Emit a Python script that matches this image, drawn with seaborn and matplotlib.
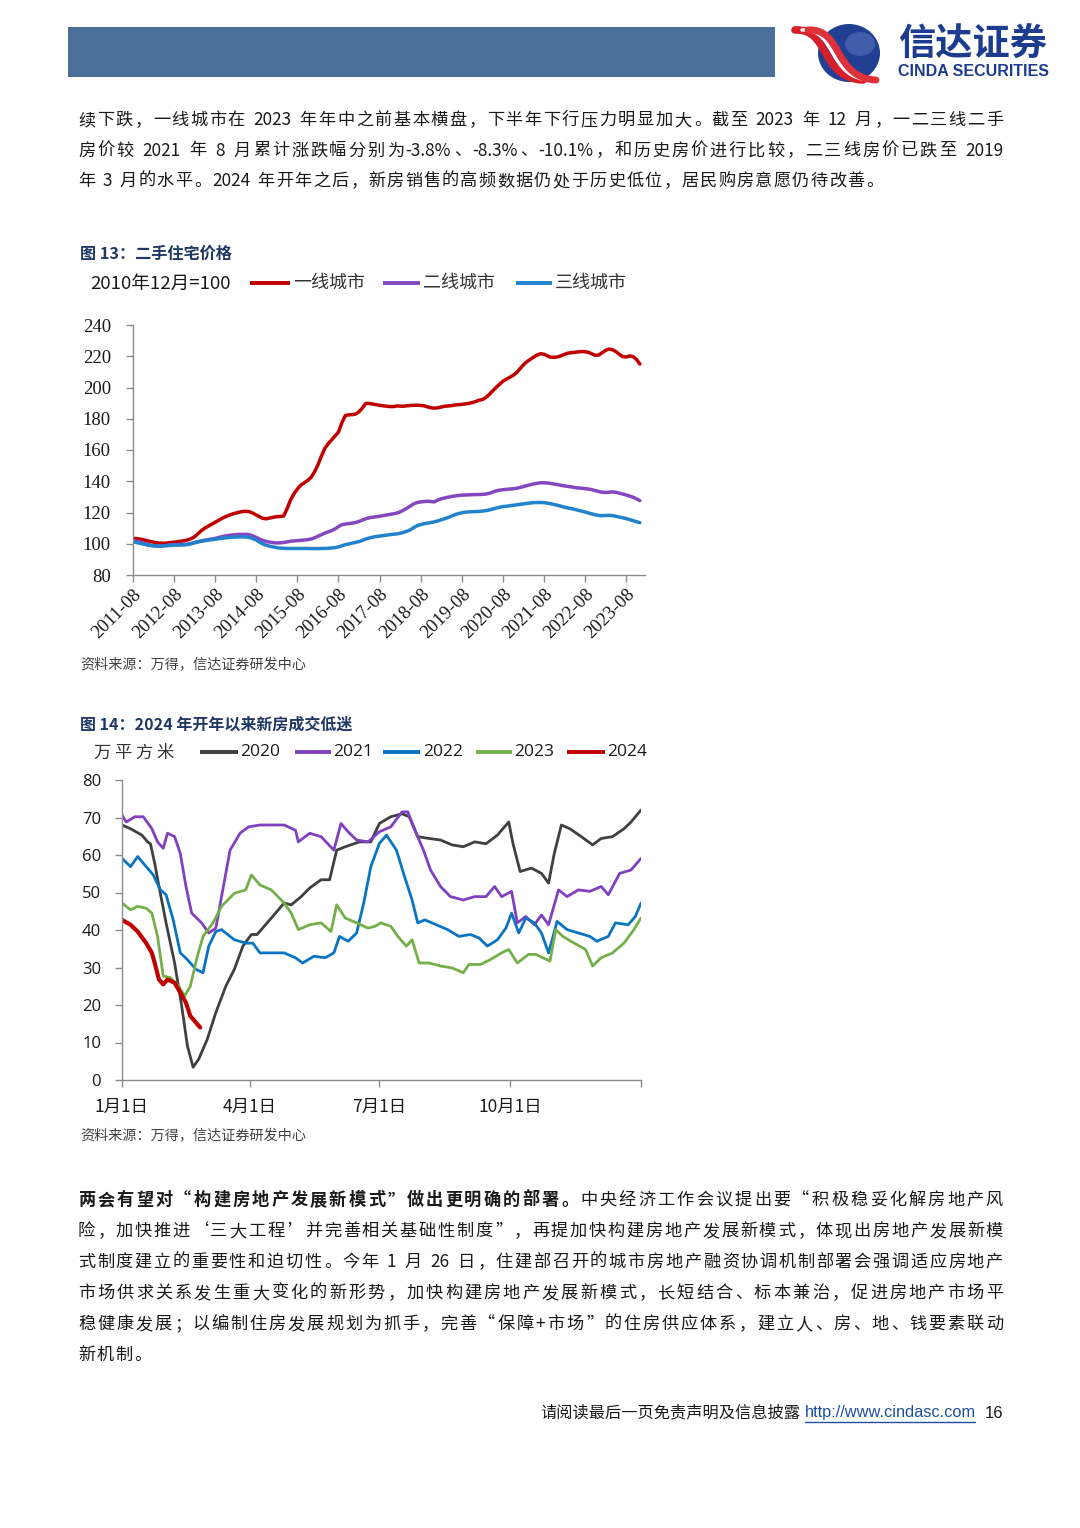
import re
import numpy as np
import pandas as pd
import matplotlib
matplotlib.use("Agg")
import matplotlib.pyplot as plt
import seaborn as sns
from matplotlib.patches import Rectangle, Ellipse, PathPatch
from matplotlib.path import Path

# ---------------- data: chart 13 (monthly, 2011-08 .. 2023-12) ----------------
tier1 = [103.5, 103.3, 103.0, 102.6, 102.0, 101.5, 101.0, 100.6, 100.4, 100.3,
         100.5, 100.8, 101.0, 101.3, 101.6, 102.0, 102.5, 103.3, 104.5, 106.5,
         108.5, 110.0, 111.3, 112.5, 113.8, 115.0, 116.3, 117.3, 118.2, 119.0,
         119.6, 120.2, 120.6, 120.8, 120.5, 119.6, 118.4, 117.2, 116.2, 116.0,
         116.5, 117.0, 117.3, 117.5, 117.8, 122.5, 128.0, 132.0, 135.0, 137.5,
         139.0, 140.5, 142.5, 146.0, 150.5, 156.0, 161.0, 164.0, 166.5, 169.0,
         171.5, 177.5, 182.0, 182.5, 182.6, 183.0, 184.5, 187.0, 189.8, 189.8,
         189.4, 189.0, 188.6, 188.3, 188.0, 187.8, 187.8, 188.2, 188.1, 188.0,
         188.3, 188.5, 188.6, 188.7, 188.5, 188.3, 187.6, 187.0, 186.8, 187.0,
         187.5, 188.0, 188.2, 188.4, 188.8, 189.0, 189.2, 189.5, 189.8, 190.3,
         191.0, 191.8, 192.3, 193.5, 195.5, 197.8, 200.0, 202.0, 204.0, 205.3,
         206.5, 207.8, 209.5, 212.0, 214.5, 216.5, 218.0, 219.5, 220.8, 221.6,
         221.3, 220.2, 219.4, 219.3, 219.6, 220.3, 221.2, 222.0, 222.3, 222.5,
         222.8, 223.0, 222.9, 222.5, 221.5, 220.6, 220.8, 222.3, 223.8, 224.6,
         224.2, 223.0, 221.2, 219.8, 219.5, 220.2, 219.8, 218.0, 215.0]
tier2 = [102.0, 101.6, 101.0, 100.4, 99.8, 99.2, 98.8, 98.6, 98.6, 98.8,
         99.0, 99.3, 99.5, 99.5, 99.5, 99.6, 99.8, 100.2, 100.8, 101.4,
         101.8, 102.3, 102.7, 103.0, 103.4, 104.0, 104.6, 105.0, 105.3, 105.6,
         105.8, 106.0, 106.0, 106.0, 105.8, 105.0, 104.0, 103.0, 102.0, 101.5,
         101.0, 100.7, 100.5, 100.6, 100.8, 101.2, 101.6, 101.8, 102.0, 102.2,
         102.4, 102.6, 103.0, 103.8, 104.8, 105.8, 106.8, 107.6, 108.4, 109.5,
         111.0, 112.2, 112.6, 112.9, 113.2, 113.6, 114.3, 115.2, 116.0, 116.6,
         117.0, 117.3, 117.6, 118.0, 118.4, 118.8, 119.1, 119.6, 120.4, 121.5,
         122.8, 124.2, 125.6, 126.4, 126.8, 127.0, 127.2, 127.0, 126.8, 128.0,
         128.8, 129.3, 129.8, 130.2, 130.6, 130.9, 131.1, 131.2, 131.3, 131.4,
         131.5, 131.5, 131.6, 131.8, 132.3, 133.0, 133.8, 134.3, 134.6, 134.8,
         135.0, 135.2, 135.5, 136.0, 136.6, 137.2, 137.8, 138.3, 138.7, 139.0,
         139.0, 138.9, 138.6, 138.2, 137.8, 137.4, 137.0, 136.7, 136.4, 136.0,
         135.7, 135.5, 135.3, 135.0, 134.6, 134.0, 133.4, 133.0, 132.8, 133.0,
         133.2, 132.9, 132.4, 131.8, 131.2, 130.5, 129.8, 128.8, 127.6]
tier3 = [101.2, 100.8, 100.3, 99.8, 99.3, 98.9, 98.6, 98.5, 98.5, 98.6,
         98.8, 99.0, 99.1, 99.1, 99.2, 99.3, 99.5, 100.0, 100.6, 101.2,
         101.6, 102.0, 102.3, 102.6, 102.9, 103.2, 103.5, 103.8, 104.0, 104.2,
         104.3, 104.4, 104.4, 104.3, 104.0, 103.3, 102.3, 101.0, 99.8, 99.0,
         98.4, 97.9, 97.5, 97.2, 97.1, 97.0, 97.0, 97.0, 97.0, 97.0,
         97.0, 97.0, 96.9, 96.9, 96.9, 97.0, 97.0, 97.1, 97.3, 97.5,
         98.0, 98.7, 99.4, 99.9, 100.4, 100.9, 101.4, 102.2, 103.0, 103.7,
         104.2, 104.6, 104.9, 105.2, 105.5, 105.8, 106.1, 106.3, 106.7, 107.3,
         108.0, 109.0, 110.4, 111.6, 112.3, 112.8, 113.2, 113.6, 114.0, 114.6,
         115.3, 116.0, 116.8, 117.7, 118.6, 119.3, 119.8, 120.2, 120.4, 120.5,
         120.6, 120.7, 120.9, 121.2, 121.6, 122.2, 122.8, 123.3, 123.8, 124.0,
         124.3, 124.6, 124.9, 125.2, 125.5, 125.8, 126.1, 126.3, 126.4, 126.4,
         126.3, 126.0, 125.6, 125.1, 124.6, 124.0, 123.4, 122.9, 122.5, 122.0,
         121.4, 120.9, 120.3, 119.7, 119.1, 118.5, 118.1, 118.0, 118.1, 118.2,
         118.0, 117.6, 117.1, 116.6, 116.1, 115.5, 114.8, 114.1, 113.5]
c1_series = ["一线城市", "二线城市", "三线城市"]
c1_colors = ["#C00000", "#8547C0", "#2283CC"]
c1_xticks = ["2011-08", "2012-08", "2013-08", "2014-08", "2015-08", "2016-08", "2017-08",
             "2018-08", "2019-08", "2020-08", "2021-08", "2022-08", "2023-08"]
c1_yticks = [80, 100, 120, 140, 160, 180, 200, 220, 240]

# ---------------- data: chart 14 (day of year) ----------------
d2020_x = [0, 6, 14, 18, 20, 23, 26, 31, 37, 42, 46, 50, 54, 60, 66, 73, 79, 85, 91, 95,
           100, 108, 114, 119, 126, 132, 140, 146, 151, 157, 167, 175, 181, 189, 197, 202, 208, 216, 224, 232,
           240, 248, 256, 264, 272, 275, 280, 288, 295, 300, 304, 309, 315, 323, 331, 337, 345, 353, 358, 365]
d2020_y = [68.0, 67.0, 65.3, 63.5, 63.0, 57.8, 51.6, 41.9, 31.2, 19.7, 9.1, 3.4, 5.6, 10.9, 18.0, 25.0, 29.5, 35.7, 38.8, 38.8,
           41.0, 44.5, 47.2, 46.7, 48.9, 51.2, 53.4, 53.4, 61.3, 62.2, 63.5, 63.5, 68.4, 70.2, 71.0, 70.2, 64.9, 64.4, 64.0, 62.7,
           62.2, 63.5, 63.0, 65.3, 68.8, 63.0, 55.6, 56.5, 55.1, 52.5, 60.4, 68.0, 67.0, 64.9, 62.7, 64.4, 64.9, 67.0, 68.8, 72.0]
d2021_x = [0, 3, 9, 15, 21, 25, 29, 32, 37, 41, 45, 49, 56, 61, 66, 70, 76, 83, 89, 97,
           105, 114, 122, 124, 132, 140, 149, 154, 159, 165, 173, 181, 189, 197, 201, 206, 212, 217, 224, 231,
           240, 248, 256, 262, 267, 274, 278, 284, 290, 295, 300, 307, 313, 321, 329, 337, 342, 350, 358, 365]
d2021_y = [70.6, 68.8, 70.2, 70.2, 67.0, 63.5, 61.8, 65.8, 64.9, 60.4, 51.6, 44.5, 41.9, 39.2, 40.5, 48.9, 61.3, 65.8, 67.5, 68.0,
           68.0, 68.0, 66.6, 63.5, 65.8, 64.9, 61.3, 68.4, 66.2, 64.0, 63.5, 66.2, 67.5, 71.5, 71.5, 66.6, 61.3, 56.0, 51.6, 48.9,
           48.0, 48.9, 48.9, 51.6, 48.9, 50.3, 41.9, 43.6, 41.4, 44.0, 41.4, 50.7, 48.9, 50.7, 50.3, 51.6, 49.4, 55.1, 56.0, 59.1]
d2022_x = [0, 6, 11, 17, 22, 27, 31, 36, 41, 46, 52, 57, 61, 66, 70, 79, 87, 92, 97, 105,
           114, 122, 127, 135, 143, 149, 153, 159, 165, 170, 175, 181, 186, 193, 198, 204, 208, 213, 221, 229,
           237, 245, 251, 257, 264, 270, 274, 279, 284, 290, 295, 300, 306, 313, 321, 329, 334, 342, 347, 356, 361, 365]
d2022_y = [59.1, 56.9, 59.6, 56.9, 54.7, 50.7, 49.4, 42.7, 33.9, 32.1, 29.5, 28.6, 35.7, 39.6, 40.1, 37.4, 36.5, 36.5, 33.9, 33.9,
           33.9, 32.6, 31.2, 33.0, 32.6, 33.9, 38.3, 37.0, 39.2, 47.2, 56.9, 63.1, 65.3, 61.3, 55.1, 48.0, 41.9, 42.7, 41.4, 40.1,
           38.3, 38.8, 37.9, 35.7, 37.4, 40.5, 44.5, 39.2, 43.2, 41.9, 39.2, 33.9, 42.3, 40.1, 39.2, 38.3, 37.0, 38.3, 41.9, 41.4, 43.6, 47.2]
d2023_x = [0, 6, 11, 17, 21, 25, 29, 34, 40, 44, 48, 53, 57, 64, 70, 79, 87, 91, 97, 105,
           114, 119, 124, 132, 140, 147, 151, 157, 165, 173, 178, 182, 189, 194, 200, 204, 209, 216, 224, 232,
           240, 244, 252, 259, 267, 272, 278, 286, 291, 301, 305, 310, 318, 326, 331, 337, 345, 353, 360, 365]
d2023_y = [47.2, 45.4, 46.3, 45.8, 44.5, 38.3, 27.7, 27.3, 25.0, 22.4, 25.0, 33.0, 38.3, 41.9, 46.3, 49.8, 50.7, 54.7, 52.0, 50.7,
           47.2, 44.5, 40.1, 41.4, 41.9, 39.6, 46.7, 43.2, 41.9, 40.5, 41.0, 41.9, 41.0, 38.3, 35.7, 37.4, 31.2, 31.2, 30.4, 29.9,
           28.6, 30.8, 30.8, 32.1, 33.9, 34.8, 31.2, 33.5, 33.5, 31.7, 40.1, 38.3, 36.5, 34.8, 30.4, 32.6, 33.9, 36.5, 40.1, 43.2]
d2024_x = [0, 6, 11, 17, 21, 23, 26, 29, 32, 37, 41, 45, 48, 52, 55]
d2024_y = [42.7, 41.4, 39.6, 36.5, 33.9, 31.2, 26.8, 25.5, 26.8, 25.9, 23.3, 20.6, 17.1, 15.3, 14.0]
c2_years = ["2020", "2021", "2022", "2023", "2024"]
c2_colors = ["#404040", "#8040C0", "#0A74C4", "#74B04A", "#C00000"]
c2_xtick_pos = [0, 90, 181, 273, 365]
c2_xtick_lab = ["1月1日", "4月1日", "7月1日", "10月1日", ""]
c2_yticks = [0, 10, 20, 30, 40, 50, 60, 70, 80]

# ---------------- text ----------------
para1 = [
    "续下跌，一线城市在 2023 年年中之前基本横盘，下半年下行压力明显加大。截至 2023 年 12 月，一二三线二手",
    "房价较 2021 年 8 月累计涨跌幅分别为-3.8%、-8.3%、-10.1%，和历史房价进行比较，二三线房价已跌至 2019",
    "年 3 月的水平。2024 年开年之后，新房销售的高频数据仍处于历史低位，居民购房意愿仍待改善。",
]
para2_bold = "两会有望对“构建房地产发展新模式”做出更明确的部署。"
para2 = [
    "中央经济工作会议提出要“积极稳妥化解房地产风",
    "险，加快推进‘三大工程’并完善相关基础性制度”，再提加快构建房地产发展新模式，体现出房地产发展新模",
    "式制度建立的重要性和迫切性。今年 1 月 26 日，住建部召开的城市房地产融资协调机制部署会强调适应房地产",
    "市场供求关系发生重大变化的新形势，加快构建房地产发展新模式，长短结合、标本兼治，促进房地产市场平",
    "稳健康发展；以编制住房发展规划为抓手，完善“保障+市场”的住房供应体系，建立人、房、地、钱要素联动",
    "新机制。",
]

# ---------------- figure ----------------
sns.set_theme(style="white")
plt.rcParams["font.family"] = ["Noto Sans CJK SC", "DejaVu Sans"]
CJK = ["Noto Sans CJK SC", "DejaVu Sans"]

W, H = 1080, 1528
fig = plt.figure(figsize=(10.8, 15.28), dpi=100)
fig.patch.set_facecolor("white")
bg = fig.add_axes([0, 0, 1, 1])
bg.set_xlim(0, W)
bg.set_ylim(H, 0)
bg.axis("off")
bg.set_zorder(0)
renderer = fig.canvas.get_renderer()


def ax_rect(l, t, r, b):
    return [l / W, 1 - b / H, (r - l) / W, (b - t) / H]


FULL_PUNCT_LEFT = set("，。、；：”’）")
FULL_PUNCT_RIGHT = set("“‘（")


def is_cjk(ch):
    return ord(ch) >= 0x2E80 or ch in "“”‘’"


def measure(t, size, weight="normal", family=None):
    tt = bg.text(0, 0, t, fontsize=size, fontweight=weight, family=family or CJK)
    w = tt.get_window_extent(renderer).width
    tt.remove()
    return w


def fit_text(x0, x1, y, t, size, **kw):
    w = measure(t, size, kw.get("fontweight", "normal"), kw.get("family"))
    s = size * (x1 - x0) / w
    bg.text(x0, y, t, fontsize=s, ha="left", va="center", **kw)


def draw_line(segs, x0, x1, y, size, justify=True, color="#1a1a1a"):
    toks = []
    for text, w in segs:
        for t in re.findall(r"[A-Za-z0-9.%+\-]+|\s+|.", text):
            toks.append((t, w))
    em = size * 100 / 72
    widths = []
    for t, w in toks:
        if t.isspace():
            widths.append(0.3 * em)
        elif len(t) == 1 and is_cjk(t):
            widths.append(em)
        else:
            widths.append(measure(t, size, w))
    gaps = max(len(toks) - 1, 1)
    extra = (x1 - x0 - sum(widths)) / gaps if justify else 0.07 * em
    x = x0
    for (t, w), wd in zip(toks, widths):
        if not t.isspace():
            if len(t) == 1 and t in FULL_PUNCT_LEFT:
                bg.text(x + 0.05 * em, y, t, fontsize=size, fontweight=w, family=CJK,
                        ha="left", va="center", color=color)
            elif len(t) == 1 and t in FULL_PUNCT_RIGHT:
                bg.text(x + 0.95 * em, y, t, fontsize=size, fontweight=w, family=CJK,
                        ha="right", va="center", color=color)
            elif len(t) == 1 and is_cjk(t):
                bg.text(x + wd / 2, y, t, fontsize=size, fontweight=w, family=CJK,
                        ha="center", va="center", color=color)
            else:
                bg.text(x, y, t, fontsize=size, fontweight=w, family=CJK,
                        ha="left", va="center", color=color)
        x += wd + extra


# ---------------- header ----------------
bg.add_patch(Rectangle((68, 27), 707, 50, facecolor="#4A6F99", edgecolor="none"))
bg.add_patch(Ellipse((849, 53), 62, 58, facecolor="#213F93", edgecolor="none"))
bg.add_patch(Ellipse((860, 44), 30, 24, facecolor="#5572B8", edgecolor="none", alpha=0.6))
for off, col, lw in [(-5, "#D71F2B", 5.5), (2, "white", 2.5), (8, "#E0313A", 5.0)]:
    verts = [(800 + off, 30), (835 + off, 28), (825 + off, 78), (868 + off, 80)]
    p = Path(verts, [Path.MOVETO, Path.CURVE4, Path.CURVE4, Path.CURVE4])
    bg.add_patch(PathPatch(p, facecolor="none", edgecolor=col, lw=lw, capstyle="round"))
fit_text(898, 1047, 44, "信达证券", 26, fontweight="bold", color="#1D3C8F", family=CJK)
fit_text(898, 1049, 71, "CINDA SECURITIES", 9.5, fontweight="bold", color="#1D3C8F",
         family=["Liberation Sans Narrow", "Liberation Sans"])

# ---------------- paragraph 1 ----------------
BODY = 12.4
for i, line in enumerate(para1):
    draw_line([(line, "normal")], 78, 1003, 120 + 30.5 * i, BODY, justify=(i < 2))

# ---------------- chart 13 ----------------
fit_text(80, 232, 254, "图 13：二手住宅价格", 11, fontweight="bold", color="#1F3864", family=CJK)
bg.text(90, 284, "2010年12月=100", fontsize=13.4, color="#1a1a1a", family=CJK, ha="left", va="center")
leg1 = [(250, 290, 293), (383, 420, 423), (516, 552, 555)]
for (a, b, tx), name, col in zip(leg1, c1_series, c1_colors):
    bg.plot([a, b], [283, 283], color=col, lw=2.8, solid_capstyle="butt")
    bg.text(tx, 283, name, fontsize=13, color="#333333", family=CJK, ha="left", va="center")

ax1 = fig.add_axes(ax_rect(133, 325, 645, 575))
ax1.set_zorder(1)
ax1.patch.set_alpha(0)
n1 = len(tier1)
df1 = pd.DataFrame({
    "idx": np.concatenate([np.arange(n1)] * 3),
    "value": tier1 + tier2 + tier3,
    "series": sum([[s] * n1 for s in c1_series], []),
})
sns.lineplot(data=df1, x="idx", y="value", hue="series", hue_order=c1_series,
             palette=c1_colors, linewidth=2.5, estimator=None, legend=False, ax=ax1)
ax1.set_xlim(0, 149.5)
ax1.set_ylim(80, 240)
ax1.set_xticks(range(0, 12 * len(c1_xticks), 12))
ax1.set_xticklabels(c1_xticks, rotation=45, ha="right", va="top", rotation_mode="anchor",
                    family=["Liberation Serif"], fontsize=13.5, color="#1a1a1a")
ax1.set_yticks(c1_yticks)
ax1.set_yticklabels([str(v) for v in c1_yticks], family=["Liberation Serif"], fontsize=13.5, color="#1a1a1a")
ax1.set_xlabel("")
ax1.set_ylabel("")
for s in ["top", "right"]:
    ax1.spines[s].set_visible(False)
for s in ["left", "bottom"]:
    ax1.spines[s].set_color("#8C8C8C")
    ax1.spines[s].set_linewidth(1.0)
ax1.tick_params(axis="y", direction="out", length=5, width=1, color="#8C8C8C", pad=11, left=True)
ax1.tick_params(axis="x", direction="out", length=5, width=1, color="#8C8C8C", pad=3, bottom=True)

fit_text(80, 305, 665, "资料来源：万得，信达证券研发中心", 10, color="#404040", family=CJK)

# ---------------- chart 14 ----------------
fit_text(80, 352, 725, "图 14：2024 年开年以来新房成交低迷", 11, fontweight="bold", color="#1F3864", family=CJK)
for k, ch in enumerate("万平方米"):
    bg.text(102 + 21 * k, 753, ch, fontsize=12.5, color="#333333", family=CJK, ha="center", va="center")
leg2 = [(200, 238, 240), (295, 331, 333), (383, 420, 423), (476, 512, 514), (567, 605, 607)]
for (a, b, tx), name, col in zip(leg2, c2_years, c2_colors):
    bg.plot([a, b], [752, 752], color=col, lw=2.8, solid_capstyle="butt")
    bg.text(tx, 752, name, fontsize=12.5, color="#1a1a1a", family=["Open Sans"], ha="left", va="center")

ax2 = fig.add_axes(ax_rect(122, 780, 641, 1080))
ax2.set_zorder(1)
ax2.patch.set_alpha(0)
series2 = [(d2020_x, d2020_y), (d2021_x, d2021_y), (d2022_x, d2022_y), (d2023_x, d2023_y), (d2024_x, d2024_y)]
for (xs, ys), yr, col in zip(series2, c2_years, c2_colors):
    d = pd.DataFrame({"day": xs, "value": ys})
    sns.lineplot(data=d, x="day", y="value", color=col, linewidth=(3.0 if yr == "2024" else 2.0),
                 estimator=None, ax=ax2)
ax2.set_xlim(0, 365)
ax2.set_ylim(0, 80)
ax2.set_xticks(c2_xtick_pos)
ax2.set_xticklabels(c2_xtick_lab, family=CJK, fontsize=12.5, color="#1a1a1a")
ax2.set_yticks(c2_yticks)
ax2.set_yticklabels([str(v) for v in c2_yticks], family=["Open Sans"], fontsize=12, color="#1a1a1a")
ax2.set_xlabel("")
ax2.set_ylabel("")
for s in ["top", "right"]:
    ax2.spines[s].set_visible(False)
for s in ["left", "bottom"]:
    ax2.spines[s].set_color("#8C8C8C")
    ax2.spines[s].set_linewidth(1.0)
ax2.tick_params(axis="y", direction="out", length=5, width=1, color="#8C8C8C", pad=10, left=True)
ax2.tick_params(axis="x", direction="out", length=5, width=1, color="#8C8C8C", pad=8, bottom=True)

fit_text(80, 305, 1136, "资料来源：万得，信达证券研发中心", 10, color="#404040", family=CJK)

# ---------------- paragraph 2 ----------------
for i, line in enumerate(para2):
    segs = [(para2_bold, "bold"), (line, "normal")] if i == 0 else [(line, "normal")]
    draw_line(segs, 78, 1003, 1200 + 31 * i, BODY, justify=(i < len(para2) - 1))

# ---------------- footer ----------------
fit_text(540, 800, 1413, "请阅读最后一页免责声明及信息披露", 11.5, color="#1a1a1a", family=CJK)
bg.text(805, 1413, "http://www.cindasc.com", fontsize=11.8, color="#1F4FA0",
        family=["Liberation Sans"], ha="left", va="center")
bg.plot([805, 975], [1422, 1422], color="#1F4FA0", lw=1)
bg.text(985, 1413, "16", fontsize=12, color="#1a1a1a", family=["Liberation Sans"], ha="left", va="center")

fig.savefig("out.png", dpi=100, facecolor="white")
